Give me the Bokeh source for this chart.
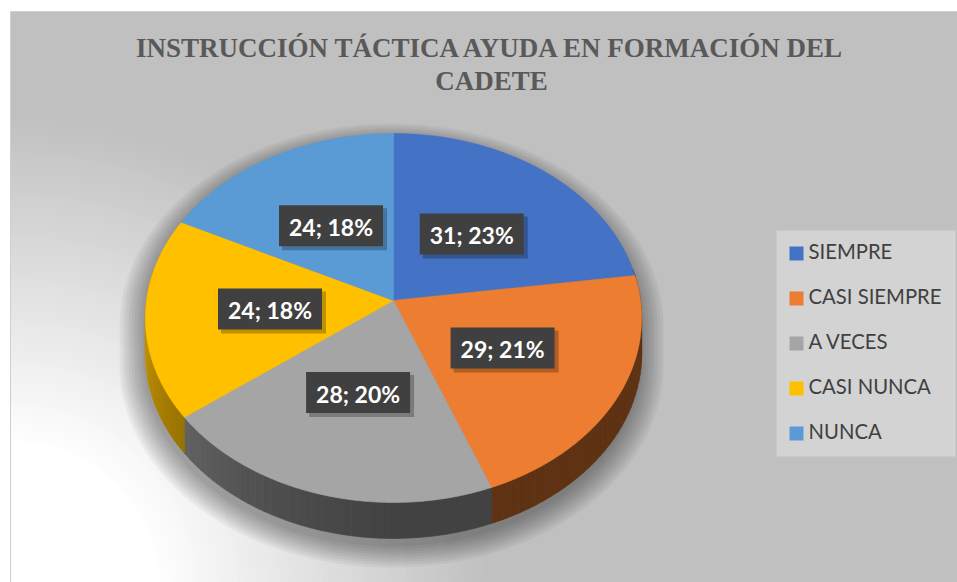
import numpy as np
from bokeh.plotting import figure
from bokeh.models import Range1d
from bokeh.core.properties import value
from bokeh.embed import file_html
from bokeh.resources import INLINE

# ---------------- data ----------------
categories = ["SIEMPRE", "CASI SIEMPRE", "A VECES", "CASI NUNCA", "NUNCA"]
counts = [31, 29, 28, 24, 24]
percents = [23, 21, 20, 18, 18]
colors = ["#4472C4", "#ED7D31", "#A5A5A5", "#FFC000", "#5B9BD5"]
title_lines = ["INSTRUCCIÓN TÁCTICA AYUDA EN FORMACIÓN DEL", "CADETE"]

# ---------------- layout / style ----------------
W, H = 957, 582
CX, CY = 393.0, 300.0      # apex of the pie (screen px)
RX, RY = 247.0, 182.8      # radii of the projected disc
K = -0.0949                # perspective factor
DEPTH = 36.0               # thickness of the pie

p = figure(width=W, height=H, x_range=Range1d(0, 957), y_range=Range1d(582, 0),
           output_backend="svg", toolbar_location=None, min_border=0,
           x_axis_type=None, y_axis_type=None)
p.grid.visible = False
p.outline_line_color = None
p.background_fill_color = "white"
p.border_fill_color = "white"


def proj(theta_deg, r=1.0):
    t = np.radians(theta_deg)
    u = r * np.sin(t)
    v = -r * np.cos(t)
    den = 1 + K * v
    return CX + RX * u / den, CY + RY * v / den


def shade(hexcol, f):
    h = hexcol.lstrip("#")
    rgb = [int(h[i:i + 2], 16) for i in (0, 2, 4)]
    return "#%02x%02x%02x" % tuple(int(max(0, min(255, c * f))) for c in rgb)


# ---------------- background ----------------
p.quad(left=10, right=957, top=11, bottom=582, fill_color="#c0c0c0",
       line_color="#cfcfcf", line_width=1)

# radial light gradient from the bottom-left corner
gx, gy = 10.0, 590.0
radii = np.arange(480, 140, -6)
ts = np.linspace(0, 2 * np.pi, 160)
gxs, gys, gcols = [], [], []
for r in radii:
    f = 1 - np.clip((r - 150) / 330.0, 0, 1)
    c = int(192 + 63 * f)
    xs = np.clip(gx + r * np.cos(ts), 10.5, 957)
    ys = np.clip(gy + r * np.sin(ts), 11.5, 582)
    gxs.append(list(xs)); gys.append(list(ys))
    gcols.append("#%02x%02x%02x" % (c, c, c))
p.patches(gxs, gys, fill_color=gcols, line_color=None)

# ---------------- pie shadow ----------------
t_right, t_left = 95.4, 264.6
back = np.linspace(t_left - 360, t_right, 150)
front = np.linspace(t_right, t_left, 150)
bx, by = proj(back)
fx, fy = proj(front)
sil_x = np.concatenate([bx, fx])
sil_y = np.concatenate([by, fy + DEPTH])
sxs, sys_ = [], []
for i in range(9):
    s = 1 + 0.012 * i
    sxs.append(list(CX + (sil_x - CX) * s - 2))
    sys_.append(list(CY + DEPTH / 2 + (sil_y - CY - DEPTH / 2) * s + 8))
p.patches(sxs, sys_, fill_color="black", fill_alpha=0.045, line_color=None)

# ---------------- pie slices ----------------
total = float(sum(counts))
bounds = np.concatenate([[0], np.cumsum(counts)]) / total * 360.0

# side walls (drawn first; the top face hides the back part)
side_xs, side_ys, side_cols = [], [], []
for i, col in enumerate(colors):
    a0, a1 = bounds[i], bounds[i + 1]
    lo, hi = max(a0, 80), min(a1, 280)
    if hi <= lo:
        continue
    edges = np.arange(lo, hi, 2.0)
    edges = np.append(edges, hi)
    for j in range(len(edges) - 1):
        th = np.linspace(edges[j], edges[j + 1], 4)
        x, y = proj(th)
        mid = 0.5 * (edges[j] + edges[j + 1])
        f = 0.40 + 0.35 * np.clip((mid - 175) / 85.0, 0, 1) ** 1.5
        side_xs.append(list(np.concatenate([x, x[::-1]])))
        side_ys.append(list(np.concatenate([y, y[::-1] + DEPTH])))
        side_cols.append(shade(col, f))
p.patches(side_xs, side_ys, fill_color=side_cols, line_color=side_cols, line_width=0.6)

# top faces
top_xs, top_ys = [], []
for i in range(len(counts)):
    th = np.linspace(bounds[i], bounds[i + 1], 120)
    x, y = proj(th)
    top_xs.append([CX] + list(x))
    top_ys.append([CY] + list(y))
p.patches(top_xs, top_ys, fill_color=colors, line_color=colors, line_width=0.6)

# ---------------- data labels ----------------
mids = 0.5 * (bounds[:-1] + bounds[1:])
lx, ly = proj(mids, 0.5)
labels = ["%d; %d%%" % (c, pc) for c, pc in zip(counts, percents)]
bw, bh = 104, 41
p.quad(left=lx - bw / 2 + 3, right=lx + bw / 2 + 4, top=ly - bh / 2 + 3, bottom=ly + bh / 2 + 4,
       fill_color="black", fill_alpha=0.25, line_color=None)
p.quad(left=lx - bw / 2, right=lx + bw / 2, top=ly - bh / 2, bottom=ly + bh / 2,
       fill_color="#404040", line_color=None)
p.text(x=lx, y=ly + 1, text=labels, text_align="center", text_baseline="alphabetic",
       text_font=value("Lato"), text_font_style="bold", text_font_size="23px",
       text_color="white")

# ---------------- legend ----------------
p.quad(left=776, right=955, top=230, bottom=456, fill_color="#d3d3d3", line_color=None)
ley = 253 + 45 * np.arange(len(categories))
p.quad(left=789, right=803, top=ley - 7, bottom=ley + 7, fill_color=colors, line_color=None)
p.text(x=808, y=ley - 3, text=categories, text_align="left", text_baseline="alphabetic",
       text_font=value("Lato"), text_font_size="20.3px", text_color="#404040")

# ---------------- title ----------------
p.text(x=[491, 491], y=[47, 80], text=title_lines, text_align="center",
       text_baseline="alphabetic", text_font=value("Liberation Serif"),
       text_font_style="bold", text_font_size="27px", text_color="#595959")

open("out.html", "w").write(file_html(p, INLINE))
